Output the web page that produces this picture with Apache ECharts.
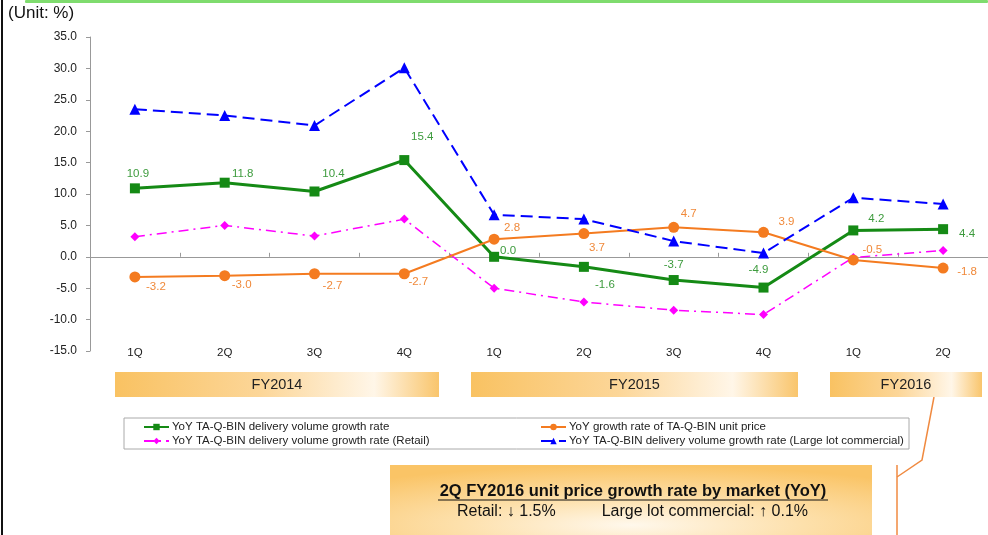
<!DOCTYPE html>
<html><head><meta charset="utf-8">
<script src="https://cdn.jsdelivr.net/npm/echarts@6/dist/echarts.min.js"></script>
<style>html,body{margin:0;padding:0;background:#fff;}#c{width:988px;height:535px;}</style>
</head><body><div id="c"></div>
<script>
const categories = ['1Q','2Q','3Q','4Q','1Q','2Q','3Q','4Q','1Q','2Q'];
const fiscalYears = ['FY2014','FY2015','FY2016'];
const yTicks = {min: -15, max: 35, interval: 5};
const nameVolume = 'YoY TA-Q-BIN delivery volume growth rate';
const namePrice = 'YoY growth rate of TA-Q-BIN unit price';
const nameRetail = 'YoY TA-Q-BIN delivery volume growth rate (Retail)';
const nameLarge = 'YoY TA-Q-BIN delivery volume growth rate (Large lot commercial)';
const volume = [10.9, 11.8, 10.4, 15.4, 0.0, -1.6, -3.7, -4.9, 4.2, 4.4];
const price = [-3.2, -3.0, -2.7, -2.7, 2.8, 3.7, 4.7, 3.9, -0.5, -1.8];
const retail = [3.2, 5.0, 3.3, 6.0, -5.0, -7.2, -8.5, -9.2, -0.1, 1.0];
const largeLot = [23.5, 22.5, 20.9, 30.1, 6.7, 6.0, 2.5, 0.6, 9.4, 8.4];
const calloutTitle = '2Q FY2016 unit price growth rate by market (YoY)';
const calloutLeft = 'Retail: \u2193 1.5%';
const calloutRight = 'Large lot commercial: \u2191 0.1%';

// label placement styles (offsets from each marker)
const volumeLabelOffsets = [[3,-15],[18,-9],[19,-18],[18,-23],[14,-6],[21,18],[0,-15],[-5,-18],[23,-12],[24,5]];
const priceLabelOffsets = [[21,10],[17,9],[18,12],[14,8],[18,-11],[13,14],[15,-13],[23,-10],[19,-10],[24,4]];

const FONT = '"Liberation Sans", Arial, sans-serif';
const chart = echarts.init(document.getElementById('c'), null, {renderer:'canvas'});

function labeled(vals, offs, color){
  return vals.map((v,i)=>({value:v, label:{show:true, position:'inside', offset:offs[i], color:color, fontSize:11.5, fontFamily:FONT, formatter:()=>v.toFixed(1)}}));
}

const fyGrad = {type:'linear', x:0, y:0, x2:1, y2:0, colorStops:[
  {offset:0, color:'#f9c262'},{offset:0.45, color:'#fcd698'},{offset:0.8, color:'#fff6e8'},{offset:1, color:'#f9c56c'}]};

const fyBoxes = [[115,439],[471,798],[830,982]];
const graphics = [
  {type:'rect', shape:{x:1, y:0, width:2, height:535}, style:{fill:'#111'}},
  {type:'rect', shape:{x:25, y:0, width:963, height:3, r:1}, style:{fill:'#7fdc6e'}},
  {type:'text', x:8, y:5, style:{text:'(Unit: %)', font:'17px '+FONT, fill:'#111'}},
  {type:'rect', shape:{x:124, y:418, width:785, height:31}, style:{fill:'none', stroke:'#aaa', lineWidth:1}},
  {type:'polyline', shape:{points:[[934,397],[922,460],[897,477]]}, style:{stroke:'#f08a40', lineWidth:1.5, fill:'none'}},
  {type:'line', shape:{x1:897, y1:465, x2:897, y2:535}, style:{stroke:'#f08a40', lineWidth:1.5}},
  {type:'rect', x:390, y:465, scaleX:482/75, shape:{x:0, y:0, width:75, height:75},
   style:{fill:{type:'radial', x:0.5, y:0.8, r:0.8, colorStops:[{offset:0, color:'#fff8ec'},{offset:0.45, color:'#fde0ab'},{offset:1, color:'#fac466'}]}}},
  {type:'text', x:633, y:491, style:{text:calloutTitle, font:'bold 16.5px '+FONT, fill:'#111', align:'center', verticalAlign:'middle'}},
  {type:'line', shape:{x1:438, y1:500, x2:828, y2:500}, style:{stroke:'#111', lineWidth:1}},
  {type:'text', x:457, y:512, style:{text:calloutLeft, font:'16px '+FONT, fill:'#111', align:'left', verticalAlign:'middle'}},
  {type:'text', x:808, y:512, style:{text:calloutRight, font:'16px '+FONT, fill:'#111', align:'right', verticalAlign:'middle'}}
];
fyBoxes.forEach((b,i)=>{
  graphics.push({type:'rect', shape:{x:b[0], y:372, width:b[1]-b[0], height:25}, style:{fill:fyGrad}});
  graphics.push({type:'text', x:(b[0]+b[1])/2, y:385, style:{text:fiscalYears[i], font:'14.5px '+FONT, fill:'#222', align:'center', verticalAlign:'middle'}});
});

const option = {
  backgroundColor:'#fff',
  animation:false,
  textStyle:{fontFamily:FONT},
  grid:{left:90, top:37, width:900, height:314, containLabel:false},
  xAxis:[
    {type:'category', data:categories, position:'bottom', axisLine:{show:false, onZero:false}, axisTick:{show:false},
     axisLabel:{fontSize:11.5, color:'#222', margin:-4, fontFamily:FONT}},
    {type:'category', data:categories, position:'bottom', axisLine:{show:true, onZero:true, lineStyle:{color:'#999', width:1}},
     axisTick:{show:true, inside:true, length:4, lineStyle:{color:'#999'}}, axisLabel:{show:false}}
  ],
  yAxis:{type:'value', min:yTicks.min, max:yTicks.max, interval:yTicks.interval,
    axisLine:{show:true, lineStyle:{color:'#999'}}, axisTick:{show:true, length:4, lineStyle:{color:'#999'}},
    splitLine:{show:false}, axisLabel:{fontSize:12, color:'#222', margin:13, fontFamily:FONT, formatter:v=>v.toFixed(1)}},
  legend:[
    {data:[nameVolume, nameRetail], orient:'vertical', left:143, top:421, itemWidth:25, itemHeight:8, itemGap:2, padding:0,
     textStyle:{fontSize:11.5, color:'#222', fontFamily:FONT, padding:[0,0,0,-2]}},
    {data:[namePrice, nameLarge], orient:'vertical', left:540, top:421, itemWidth:25, itemHeight:8, itemGap:2, padding:0,
     textStyle:{fontSize:11.5, color:'#222', fontFamily:FONT, padding:[0,0,0,-2]}}
  ],
  series:[
    {name:nameVolume, type:'line', data:labeled(volume, volumeLabelOffsets, '#3d9b3d'), symbol:'rect', symbolSize:10,
     itemStyle:{color:'#158a15'}, lineStyle:{color:'#158a15', width:3}, z:3},
    {name:namePrice, type:'line', data:labeled(price, priceLabelOffsets, '#f0893a'), symbol:'circle', symbolSize:11,
     itemStyle:{color:'#f47b20'}, lineStyle:{color:'#f47b20', width:2}, z:4},
    {name:nameRetail, type:'line', data:retail, symbol:'diamond', symbolSize:9,
     itemStyle:{color:'#ff00ff'}, lineStyle:{color:'#ff00ff', width:1.5, type:[10,5,2,5]}, z:2},
    {name:nameLarge, type:'line', data:largeLot, symbol:'triangle', symbolSize:11,
     itemStyle:{color:'#0000ff'}, lineStyle:{color:'#0000ff', width:2, type:[12,6]}, z:5}
  ],
  graphic:graphics
};
chart.setOption(option);
</script></body></html>
